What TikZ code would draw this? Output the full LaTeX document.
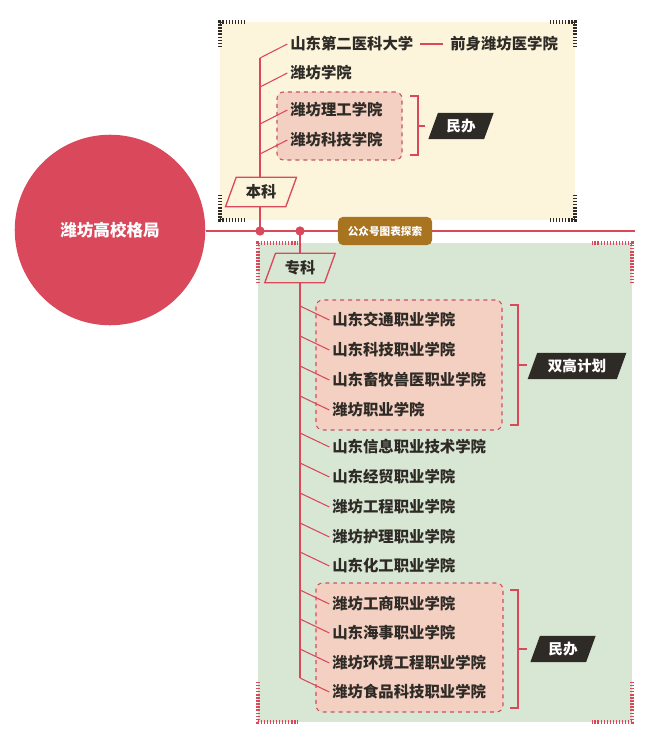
\documentclass[tikz,border=0pt]{standalone}
\usepackage{fontspec}
\setmainfont{Noto Sans CJK SC}
\usetikzlibrary{shapes.geometric,positioning}
\definecolor{redline}{HTML}{D9485B}
\definecolor{yellowbg}{HTML}{FCF5DC}
\definecolor{greenbg}{HTML}{D8E6D4}
\definecolor{pinkbox}{HTML}{F4D0C2}
\definecolor{darktag}{HTML}{2E2A26}
\definecolor{brown}{HTML}{A8741F}
\tikzset{
  school/.style={anchor=west, inner sep=0pt, font=\fontsize{11.6}{13}\selectfont\bfseries, text=darktag},
  branch/.style={draw=redline, line width=0.8pt},
  group/.style={draw=redline!80!gray, dashed, line width=0.8pt, rounded corners=5pt, fill=pinkbox},
  tag/.style={trapezium, trapezium left angle=70, trapezium right angle=110, inner xsep=4pt, minimum height=0.7cm, fill=darktag, text=white, font=\fontsize{11}{12}\selectfont\bfseries},
  level/.style={trapezium, trapezium left angle=70, trapezium right angle=110, draw=redline, line width=1pt, minimum height=0.78cm, font=\fontsize{11.5}{12}\selectfont\bfseries, text=darktag},
  corner/.style={line width=2.5pt, dash pattern=on 1pt off 1.3pt}
}
\begin{document}
\begin{tikzpicture}[x=0.0265cm,y=-0.0265cm]
  \useasboundingbox (0,0) rectangle (660,739);

  % backgrounds
  \fill[yellowbg] (220,22) rectangle (575,220);
  \fill[greenbg] (258,243) rectangle (632,722);
  % corner marks
  \foreach \x/\y/\dx/\dy in {220/22/1/1,575/22/-1/1,220/220/1/-1,575/220/-1/-1} {
    \draw[corner, darktag] (\x,\y+\dy*25) -- (\x,\y) -- (\x+\dx*25,\y);
  }
  \foreach \x/\y/\dx/\dy in {258/243/1/1,632/243/-1/1,258/722/1/-1,632/722/-1/-1} {
    \draw[corner, redline] (\x,\y+\dy*40) -- (\x,\y) -- (\x+\dx*40,\y);
  }

  % main line
  \node[circle, fill=redline, minimum size=5.05cm, text=white, font=\fontsize{12.5}{14}\selectfont\bfseries] (hub) at (110,230) {潍坊高校格局};
  \coordinate (lineend) at (635,231);
  \draw[redline, line width=1.2pt] (hub.east |- 0,231) -- (lineend);
  \coordinate (bk) at (260,231);
  \coordinate (zk) at (300,231);
  \fill[redline] (bk) circle[radius=3.5pt] (zk) circle[radius=3.5pt];
  \node[fill=brown, rounded corners=4pt, text=white, font=\fontsize{8}{10}\selectfont\bfseries, minimum width=2.5cm, minimum height=0.75cm] (mark) at (385,231) {公众号图表探索};

  % undergraduate
  \coordinate (bktop) at (260,58);
  \draw[redline, line width=1pt] (bktop) -- (bk);
  \node[group, minimum width=125*0.0265cm, minimum height=68*0.0265cm] (bkgroup) at (339.5,126) {};
  \foreach \y/\t [count=\i] in {44/山东第二医科大学,73/潍坊学院,110/潍坊理工学院,140/潍坊科技学院} {
    \node[school] (b\i) at (290,\y) {\t};
    \draw[branch] (260,\y+14) -- ([xshift=-2pt]b\i.west);
  }
  \node[school] (prev) at (450,44) {前身潍坊医学院};
  \draw[branch] ([xshift=5pt]b1.east) -- ([xshift=-5pt]prev.west);
  \draw[branch] (410,96) -- (418,96) -- (418,155) -- (410,155) (418,126) -- (425,126);
  \node[tag] (minban1) at (461,126) {民办};
  \node[level, fill=yellowbg] (benke) at (261,192) {本科};

  % vocational
  \draw[redline, line width=1pt] (zk) -- (300,678);
  \node[group, minimum width=186*0.0265cm, minimum height=130*0.0265cm] (g1) at (409,365) {};
  \node[group, minimum width=187*0.0265cm, minimum height=129*0.0265cm] (g2) at (409.5,647.5) {};
  \foreach \y/\t [count=\i] in {320/山东交通职业学院,350/山东科技职业学院,380/山东畜牧兽医职业学院,410/潍坊职业学院,447/山东信息职业技术学院,477/山东经贸职业学院,507/潍坊工程职业学院,537/潍坊护理职业学院,566/山东化工职业学院,604/潍坊工商职业学院,633/山东海事职业学院,663/潍坊环境工程职业学院,692/潍坊食品科技职业学院} {
    \node[school] (z\i) at (332,\y) {\t};
    \draw[branch] (300,\y-14) -- ([xshift=-2pt]z\i.west);
  }
  \node[level, fill=greenbg] (zhuanke) at (300,268) {专科};
  \draw[branch] (510,305) -- (518,305) -- (518,425) -- (510,425) (518,365) -- (527,365);
  \node[tag] (shuanggao) at (577,366) {双高计划};
  \draw[branch] (510,590) -- (518,590) -- (518,708) -- (510,708) (518,649) -- (527,649);
  \node[tag] (minban2) at (563,649) {民办};
\end{tikzpicture}
\end{document}
